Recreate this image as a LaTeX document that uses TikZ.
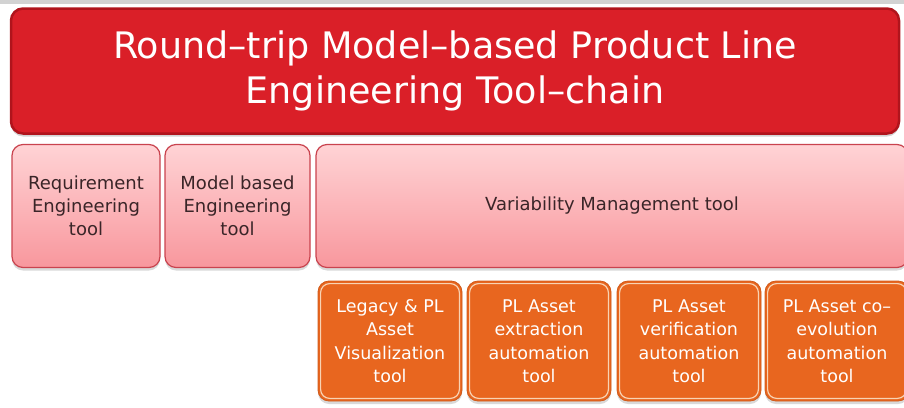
\documentclass[tikz,border=0pt]{standalone}
\usepackage{fontspec}
\setmainfont{DejaVu Sans}
\usetikzlibrary{shadows,positioning}
\definecolor{titlered}{HTML}{DA1F28}
\definecolor{titleedge}{HTML}{B0141C}
\definecolor{pinktop}{HTML}{FFD3D5}
\definecolor{pinkbot}{HTML}{F8979D}
\definecolor{pinkedge}{HTML}{C9434E}
\definecolor{orangefill}{HTML}{E8661F}
\definecolor{orangeline}{HTML}{F8D3B3}
\definecolor{orangeedge}{HTML}{D05A1A}
\definecolor{darktext}{HTML}{3A2528}
\tikzset{
  titlebox/.style={draw=titleedge, line width=2.5pt, fill=titlered, rounded corners=12pt,
    minimum width=888pt, minimum height=125pt, inner sep=0pt, text=white, align=center,
    font=\fontsize{36.5}{45}\selectfont, drop shadow={shadow xshift=0pt, shadow yshift=-3pt, opacity=0.35}},
  pinkbox/.style={draw=pinkedge, line width=1.2pt, top color=pinktop, bottom color=pinkbot,
    rounded corners=11pt, minimum height=123pt, inner sep=0pt, text=darktext, align=center,
    font=\fontsize{18}{23}\selectfont, drop shadow={shadow xshift=0pt, shadow yshift=-3pt, opacity=0.3}},
  orangebox/.style={draw=orangeedge, line width=0.8pt, fill=orangefill, rounded corners=11pt,
    minimum width=144pt, minimum height=120pt, inner sep=0pt, text=white, align=center,
    font=\fontsize{17.5}{23.5}\selectfont, drop shadow={shadow xshift=0pt, shadow yshift=-3pt, opacity=0.3}},
  innerline/.style={draw=orangeline, line width=1.2pt, rounded corners=9pt},
}
\begin{document}
\begin{tikzpicture}[x=1pt,y=-1pt]
\useasboundingbox (0,0) rectangle (904,407);
\fill[gray!35] (0,0) rectangle (904,4);
\node[titlebox] (title) at (455,71) {Round–trip Model–based Product Line\\Engineering Tool–chain};
\node[pinkbox, minimum width=148pt] (req) at (86,206) {Requirement\\Engineering\\tool};
\node[pinkbox, minimum width=145pt] (mbe) at (237.5,206) {Model based\\Engineering\\tool};
\node[pinkbox, minimum width=592pt] (vm) at (612,206) {\raisebox{-4pt}{Variability Management tool}};
\node[orangebox] (vis) at (390,341) {Legacy \& PL\\Asset\\Visualization\\tool};
\node[orangebox] (ext) at (539,341) {PL Asset\\extraction\\automation\\tool};
\node[orangebox] (ver) at (689,341) {PL Asset\\verification\\automation\\tool};
\node[orangebox] (coe) at (837,341) {PL Asset co–\\evolution\\automation\\tool};
\foreach \n in {vis,ext,ver,coe}{
  \draw[innerline] ([shift={(3pt,3pt)}]\n.south west) rectangle ([shift={(-3pt,-3pt)}]\n.north east);
}
\end{tikzpicture}
\end{document}
